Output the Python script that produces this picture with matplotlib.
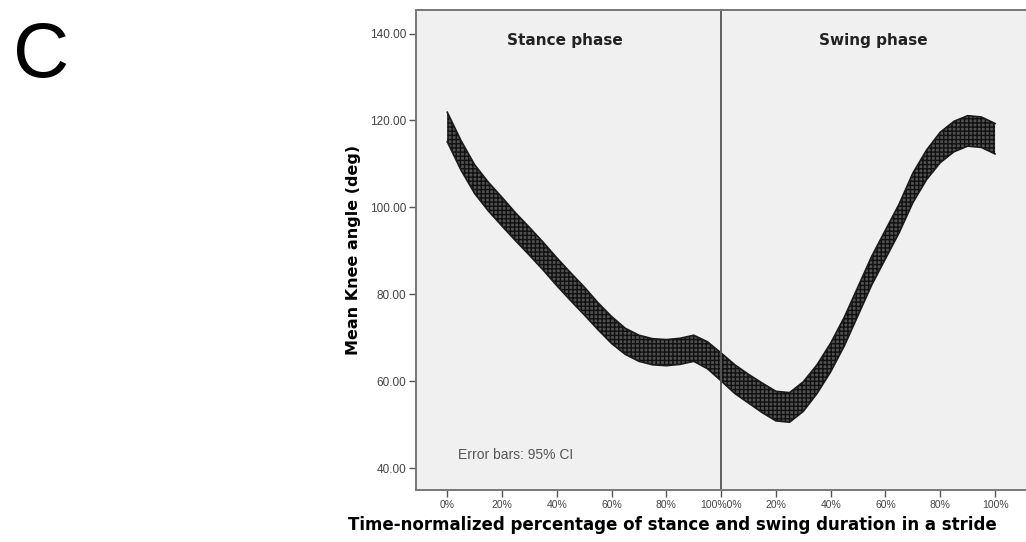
import matplotlib.pyplot as plt
import numpy as np

plt.rcParams['font.family'] = ['Liberation Sans', 'DejaVu Sans']
plt.rcParams['hatch.linewidth'] = 1.0

# Percent of each phase (read every 5%)
pct = np.arange(0, 101, 5)

# Mean knee angle (deg), stance phase
stance_mean = [118.5, 112.0, 106.5, 102.5, 99.0, 95.5, 92.2, 88.8, 85.2, 81.8, 78.5,
               75.0, 71.8, 69.2, 67.6, 66.8, 66.6, 66.9, 67.6, 66.0, 63.3]
# Mean knee angle (deg), swing phase
swing_mean = [63.3, 60.5, 58.3, 56.2, 54.3, 54.0, 56.5, 60.5, 65.5, 71.5, 78.5,
              85.5, 91.5, 97.5, 104.5, 109.8, 113.8, 116.3, 117.6, 117.3, 115.8]
# Half width of the 95% CI (deg)
stance_ci = [3.4, 3.4, 3.3, 3.3, 3.3, 3.2, 3.2, 3.2, 3.2, 3.2, 3.2,
             3.1, 3.1, 3.0, 3.0, 3.0, 3.0, 3.0, 3.0, 3.1, 3.2]
swing_ci = [3.2, 3.3, 3.3, 3.4, 3.4, 3.4, 3.4, 3.3, 3.3, 3.3, 3.3,
            3.3, 3.3, 3.3, 3.4, 3.4, 3.5, 3.5, 3.5, 3.5, 3.5]

tick_pct = [0, 20, 40, 60, 80, 100]
ytick_vals = [40, 60, 80, 100, 120, 140]

# Stance on 0..100, swing on 100..200
x = np.concatenate([pct, pct + 100])
mean = np.array(stance_mean + swing_mean)
ci = np.array(stance_ci + swing_ci)
lo = mean - ci
hi = mean + ci

fig = plt.figure(figsize=(10.26, 5.42), dpi=100)
ax = fig.add_axes([0.4055, 0.0959, 0.5945, 0.8856])
ax.set_facecolor('#f0f0f0')

# CI band with dense error-bar look
ax.fill_between(x, lo, hi, facecolor='#505050', edgecolor='#111111',
                hatch='++++', linewidth=0)
ax.plot(x, hi, color='#1a1a1a', lw=1.2)
ax.plot(x, lo, color='#1a1a1a', lw=1.2)

# Phase divider
ax.axvline(100, color='#555555', lw=1.3)

ax.set_xlim(-11.4, 211.3)
ax.set_ylim(35.0, 145.4)

xt = tick_pct + [p + 100 for p in tick_pct[1:]]
xl = [f'{p}%' for p in tick_pct[:-1]] + ['100%0%'] + [f'{p}%' for p in tick_pct[1:]]
ax.set_xticks(xt)
ax.set_xticklabels(xl, fontsize=7.5, color='#444444')
ax.set_yticks(ytick_vals)
ax.set_yticklabels([f'{v:.2f}' for v in ytick_vals], fontsize=8.5, color='#444444')
ax.tick_params(axis='both', direction='out', length=5, width=1.0, color='#555555', pad=2)

for s in ['left', 'bottom', 'top']:
    ax.spines[s].set_color('#777777')
    ax.spines[s].set_linewidth(1.4)
ax.spines['right'].set_visible(False)

bold_font = ['DejaVu Sans']
ax.text(43, 138.3, 'Stance phase', ha='center', va='center', fontsize=11,
        fontweight='bold', color='#222222', family=bold_font)
ax.text(155.4, 138.3, 'Swing phase', ha='center', va='center', fontsize=11,
        fontweight='bold', color='#222222', family=bold_font)
ax.text(3.9, 43, 'Error bars: 95% CI', ha='left', va='center', fontsize=10,
        color='#555555')

ax.set_ylabel('Mean Knee angle (deg)', fontsize=11.5, fontweight='bold',
              family=bold_font)
ax.yaxis.set_label_coords(-0.09, 0.5)
ax.set_xlabel('Time-normalized percentage of stance and swing duration in a stride',
              fontsize=12, fontweight='bold', family=bold_font)
ax.xaxis.set_label_coords(0.42, -0.055)

fig.text(0.013, 0.895, 'C', fontsize=56, ha='left', va='center', color='black')

fig.savefig('out.png', dpi=100)
